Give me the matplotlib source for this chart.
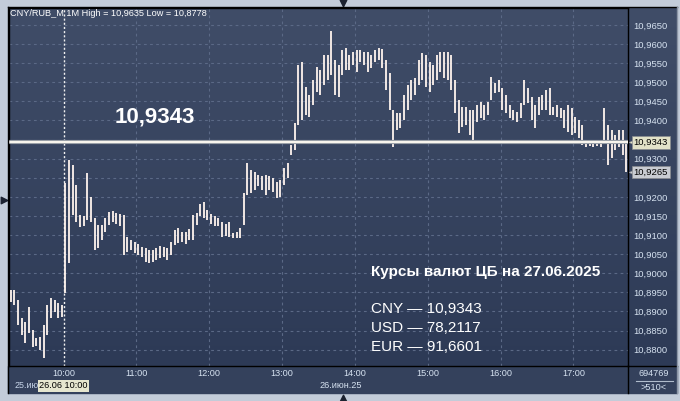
import numpy as np
import matplotlib.pyplot as plt
from matplotlib.colors import LinearSegmentedColormap
from matplotlib.transforms import blended_transform_factory

plt.rcParams['font.family'] = ['Liberation Sans', 'DejaVu Sans']

# 3-minute bars, CNY/RUB_M, 25.06 evening + 26.06 session
bar_high = [10.8956, 10.8956, 10.8930, 10.8883, 10.8872, 10.8912, 10.8852, 10.8831, 10.8833, 10.8865, 10.8917, 10.8935, 10.8930, 10.8922, 10.8917,
            10.9236, 10.9297, 10.9283, 10.9231, 10.9153, 10.9150, 10.9263, 10.9200, 10.9145, 10.9126, 10.9126, 10.9145, 10.9161, 10.9163, 10.9158,
            10.9155, 10.9153, 10.9095, 10.9087, 10.9082, 10.9077, 10.9069, 10.9066, 10.9061, 10.9061, 10.9066, 10.9072, 10.9069, 10.9066, 10.9082,
            10.9113, 10.9119, 10.9108, 10.9108, 10.9116, 10.9153, 10.9158, 10.9182, 10.9187, 10.9166, 10.9155, 10.9150, 10.9145, 10.9134, 10.9129,
            10.9134, 10.9106, 10.9108, 10.9119, 10.9210, 10.9289, 10.9270, 10.9265, 10.9257, 10.9255, 10.9257, 10.9255, 10.9249, 10.9239, 10.9244,
            10.9276, 10.9289, 10.9336, 10.9393, 10.9545, 10.9553, 10.9488, 10.9467, 10.9506, 10.9540, 10.9532, 10.9571, 10.9571, 10.9635, 10.9558,
            10.9545, 10.9585, 10.9590, 10.9571, 10.9579, 10.9585, 10.9585, 10.9579, 10.9579, 10.9571, 10.9585, 10.9590, 10.9587, 10.9558, 10.9524,
            10.9427, 10.9420, 10.9420, 10.9467, 10.9493, 10.9506, 10.9511, 10.9558, 10.9577, 10.9571, 10.9553, 10.9545, 10.9571, 10.9579, 10.9579,
            10.9579, 10.9571, 10.9506, 10.9454, 10.9435, 10.9435, 10.9427, 10.9427, 10.9441, 10.9449, 10.9441, 10.9449, 10.9514, 10.9498, 10.9506,
            10.9485, 10.9467, 10.9441, 10.9427, 10.9422, 10.9446, 10.9506, 10.9485, 10.9462, 10.9441, 10.9462, 10.9467, 10.9480, 10.9485, 10.9435,
            10.9441, 10.9433, 10.9427, 10.9441, 10.9433, 10.9409, 10.9401, 10.9388, 10.9349, 10.9349, 10.9346, 10.9349, 10.9346, 10.9433, 10.9388,
            10.9375, 10.9362, 10.9375, 10.9375, 10.9349]
bar_low = [10.8925, 10.8917, 10.8865, 10.8839, 10.8817, 10.8844, 10.8807, 10.8810, 10.8799, 10.8778, 10.8839, 10.8883, 10.8899, 10.8883, 10.8885,
           10.8948, 10.9027, 10.9153, 10.9134, 10.9121, 10.9124, 10.9140, 10.9134, 10.9061, 10.9066, 10.9087, 10.9108, 10.9126, 10.9134, 10.9129,
           10.9124, 10.9048, 10.9056, 10.9061, 10.9053, 10.9048, 10.9043, 10.9030, 10.9027, 10.9030, 10.9035, 10.9040, 10.9043, 10.9035, 10.9048,
           10.9074, 10.9079, 10.9082, 10.9077, 10.9087, 10.9087, 10.9126, 10.9150, 10.9145, 10.9140, 10.9129, 10.9124, 10.9124, 10.9095, 10.9098,
           10.9095, 10.9092, 10.9092, 10.9092, 10.9126, 10.9205, 10.9210, 10.9218, 10.9228, 10.9218, 10.9205, 10.9218, 10.9213, 10.9197, 10.9200,
           10.9231, 10.9249, 10.9310, 10.9323, 10.9388, 10.9401, 10.9414, 10.9409, 10.9441, 10.9475, 10.9467, 10.9493, 10.9506, 10.9519, 10.9467,
           10.9462, 10.9519, 10.9532, 10.9532, 10.9545, 10.9527, 10.9553, 10.9545, 10.9527, 10.9537, 10.9553, 10.9558, 10.9537, 10.9480, 10.9427,
           10.9331, 10.9375, 10.9380, 10.9401, 10.9427, 10.9454, 10.9467, 10.9493, 10.9506, 10.9488, 10.9475, 10.9493, 10.9506, 10.9527, 10.9511,
           10.9506, 10.9480, 10.9420, 10.9367, 10.9383, 10.9388, 10.9362, 10.9349, 10.9396, 10.9406, 10.9401, 10.9414, 10.9454, 10.9472, 10.9475,
           10.9427, 10.9420, 10.9406, 10.9401, 10.9396, 10.9406, 10.9441, 10.9446, 10.9401, 10.9380, 10.9414, 10.9427, 10.9427, 10.9414, 10.9414,
           10.9409, 10.9406, 10.9380, 10.9370, 10.9362, 10.9367, 10.9354, 10.9336, 10.9331, 10.9333, 10.9331, 10.9333, 10.9331, 10.9344, 10.9284,
           10.9302, 10.9323, 10.9331, 10.9310, 10.9265]
bar_minutes = 3
n_minutes = 510

hour_labels = ['10:00', '11:00', '12:00', '13:00', '14:00', '15:00', '16:00', '17:00']
hour_pos = [45, 105, 165, 225, 285, 345, 405, 465]
price_ticks = np.round(np.arange(10.880, 10.96501, 0.005), 4)
cb_rate = 10.9343
last_price = 10.9265
rates = [('CNY', '10,9343'), ('USD', '78,2117'), ('EUR', '91,6601')]

def fmt(v):
    return f'{v:.4f}'.replace('.', ',')

fig = plt.figure(figsize=(6.8, 4.01), dpi=100)
fig.patch.set_facecolor('#c3ccd9')

def box(x0, y0, x1, y1):
    return [x0 / 680, 1 - y1 / 401, (x1 - x0) / 680, (y1 - y0) / 401]

# background in pixel coords
bg = fig.add_axes([0, 0, 1, 1], zorder=0)
bg.set_xlim(0, 680)
bg.set_ylim(401, 0)
bg.axis('off')
grad = LinearSegmentedColormap.from_list('g', ['#404d68', '#2d3a56'])
bg.imshow(np.linspace(0, 1, 256)[:, None], cmap=grad, extent=[8, 677, 366, 7], aspect='auto')
bg.fill_between([8, 677], 366, 393, color='#34415c')

ax = fig.add_axes(box(9, 8, 628, 366), zorder=1)
ax.patch.set_alpha(0)
ax.set_xlim(0, n_minutes)
ax.set_ylim(10.87573, 10.96945)

x = np.arange(len(bar_high)) * bar_minutes + bar_minutes / 2
ax.vlines(x, bar_low, bar_high, color='#fff4ee', lw=1.3, zorder=3)

for p in price_ticks:
    ax.axhline(p, color='#5b6986', lw=0.8, ls=(0, (2.5, 3)), zorder=1)
for h in hour_pos[1:]:
    ax.axvline(h, color='#5b6986', lw=0.8, ls=(0, (2.5, 3)), zorder=1)
ax.axvline(hour_pos[0], color='#f0f0f0', lw=1.0, ls=(0, (1.5, 1.5)), zorder=2)

# CB rate line
ax.axhline(cb_rate, color='#9aa0a8', lw=3.0, zorder=4)
ax.axhline(cb_rate, color='#fbf8f0', lw=1.4, zorder=5)

# labels hidden behind the price boxes are left blank
tick_text = ['' if min(abs(p - cb_rate), abs(p - last_price)) < 0.0025 else fmt(p)
             for p in price_ticks]
ax.yaxis.tick_right()
ax.set_yticks(price_ticks, tick_text)
ax.set_xticks(hour_pos, hour_labels)
ax.tick_params(axis='y', length=0, pad=4, labelsize=6.8, labelcolor='#d6e2f0')
ax.tick_params(axis='x', length=0, pad=2.5, labelsize=6.6, labelcolor='#d6e2f0')
for s in ax.spines.values():
    s.set_color('black')
    s.set_linewidth(1.0)

trans = blended_transform_factory(ax.transAxes, ax.transData)
for val, fc in [(cb_rate, '#e2e2c8'), (last_price, '#c9ccd2')]:
    ax.text(1.009, val, fmt(val), transform=trans, ha='left', va='center', fontsize=6.8,
            color='black', zorder=7, clip_on=False,
            bbox=dict(boxstyle='square,pad=0.2', fc=fc, ec='#8a8c90', lw=0.5))
    ax.scatter([1.006], [val], marker='<', s=22, color=fc, edgecolors='#8a8c90', lw=0.4,
               transform=trans, zorder=6, clip_on=False)

ov = fig.add_axes([0, 0, 1, 1], zorder=2)
ov.set_xlim(0, 680)
ov.set_ylim(401, 0)
ov.axis('off')

ov.plot([8, 677], [7, 7], color='black', lw=1)
ov.plot([8, 8], [7, 393], color='black', lw=1)
ov.plot([628, 677], [366, 366], color='black', lw=1)
ov.plot([628, 628], [366, 393], color='black', lw=1)
ov.plot([677, 677], [7, 393], color='#8c96a6', lw=1)

ov.text(10, 14, 'CNY/RUB_M 1M High = 10,9635 Low = 10,8778', color='white',
        fontsize=6.6, va='center', ha='left')
ov.text(115, 117, fmt(cb_rate), color='white', fontsize=16, fontweight='bold',
        va='center', ha='left')

ov.text(371, 272, 'Курсы валют ЦБ на 27.06.2025', color='white', fontsize=11,
        fontweight='bold', va='center', ha='left')
for i, (cur, val) in enumerate(rates):
    ov.text(371, 309 + i * 19, f'{cur} — {val}', color='white', fontsize=11,
            va='center', ha='left')

ov.text(15, 386, '25.ию', color='#c8d6ea', fontsize=6.4, va='center', ha='left')
ov.text(39, 386, '26.06 10:00', color='black', fontsize=6.6, va='center', ha='left',
        bbox=dict(boxstyle='square,pad=0.15', fc='#e6e6cf', ec='none'))
ov.text(341, 386, '26.июн.25', color='#d6e2f0', fontsize=6.6, va='center', ha='center')
ov.text(654, 374, '694769', color='#d6e2f0', fontsize=6.6, va='center', ha='center')
ov.plot([636, 673], [380.5, 380.5], color='#b0bccc', lw=0.8)
ov.text(654, 387, '>510<', color='#d6e2f0', fontsize=6.6, va='center', ha='center')

# small navigation markers
ov.scatter([343], [3], marker='v', s=22, color='#1c2230')
ov.scatter([343], [398], marker='^', s=22, color='#1c2230')
ov.scatter([3.5], [200], marker='>', s=22, color='#1c2230')

fig.savefig('out.png', dpi=100, facecolor=fig.get_facecolor())
